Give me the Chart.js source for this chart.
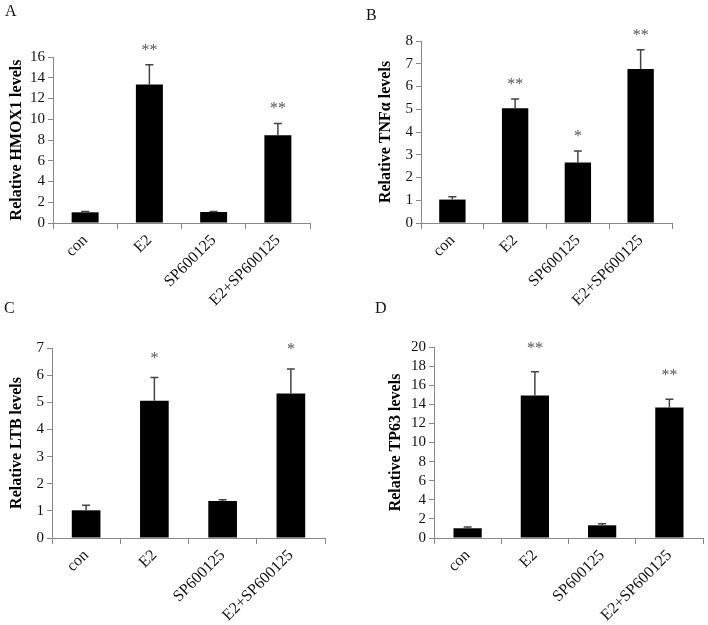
<!DOCTYPE html>
<html>
<head>
<meta charset="utf-8">
<script src="https://cdn.jsdelivr.net/npm/chart.js@4.4.1/dist/chart.umd.min.js"></script>
<style>
  body { margin: 0; background: #fff; }
  #wrap { position: relative; width: 708px; height: 625px; overflow: hidden; }
  canvas { position: absolute; }
  .tag { position: absolute; font: 16px "Liberation Serif", serif; line-height: 16px; color: #111; }
</style>
</head>
<body>
<div id="wrap">
  <canvas id="cA" width="354" height="320" style="left:0;top:0"></canvas>
  <canvas id="cB" width="354" height="320" style="left:354px;top:0"></canvas>
  <canvas id="cC" width="354" height="325" style="left:0;top:300px"></canvas>
  <canvas id="cD" width="354" height="325" style="left:354px;top:300px"></canvas>
  <div class="tag" style="left:5px;top:3px">A</div>
  <div class="tag" style="left:366px;top:7px">B</div>
  <div class="tag" style="left:4px;top:300px">C</div>
  <div class="tag" style="left:375px;top:300px">D</div>
</div>
<script>
const categories = ['con', 'E2', 'SP600125', 'E2+SP600125'];

const hmox1Means = [1.03, 13.35, 1.06, 8.45];
const hmox1Err = [0.07, 1.9, 0.06, 1.15];
const hmox1Sig = ['', '**', '', '**'];

const tnfMeans = [1.03, 5.04, 2.66, 6.77];
const tnfErr = [0.12, 0.41, 0.5, 0.84];
const tnfSig = ['', '**', '*', '**'];

const ltbMeans = [1.02, 5.06, 1.36, 5.32];
const ltbErr = [0.19, 0.85, 0.05, 0.91];
const ltbSig = ['', '*', '', '*'];

const tp63Means = [1.02, 14.92, 1.33, 13.66];
const tp63Err = [0.13, 2.5, 0.17, 0.88];
const tp63Sig = ['', '**', '', '**'];

const FONT = '"Liberation Serif", "Times New Roman", serif';

// error bars + asterisks on top of the bars
const errorBarPlugin = {
  id: 'errorBars',
  afterDatasetsDraw(chart, args, opts) {
    const ctx = chart.ctx;
    const y = chart.scales.y;
    const bars = chart.getDatasetMeta(0).data;
    ctx.save();
    bars.forEach((bar, i) => {
      const top = y.getPixelForValue(opts.means[i] + opts.errs[i]);
      const base = y.getPixelForValue(opts.means[i]);
      ctx.strokeStyle = '#444';
      ctx.lineWidth = 1.5;
      ctx.beginPath();
      ctx.moveTo(bar.x, base);
      ctx.lineTo(bar.x, top);
      ctx.moveTo(bar.x - 4, top);
      ctx.lineTo(bar.x + 4, top);
      ctx.stroke();
      if (opts.sig[i]) {
        ctx.fillStyle = '#555';
        ctx.font = '16px ' + FONT;
        ctx.textAlign = 'center';
        ctx.textBaseline = 'alphabetic';
        ctx.fillText(opts.sig[i], bar.x, top - opts.starGap);
      }
    });
    ctx.restore();
  }
};

function makeChart(id, means, errs, sig, yMax, step, title, g) {
  const ctx = document.getElementById(id).getContext('2d');
  return new Chart(ctx, {
    type: 'bar',
    data: {
      labels: categories,
      datasets: [{
        data: means,
        backgroundColor: '#000',
        borderWidth: 0,
        barPercentage: 0.42,
        categoryPercentage: 1
      }]
    },
    options: {
      responsive: false,
      animation: false,
      layout: { padding: { left: 0, right: g.right, top: g.top, bottom: 0 } },
      plugins: {
        legend: { display: false },
        tooltip: { enabled: false },
        errorBars: { means: means, errs: errs, sig: sig, starGap: g.starGap }
      },
      scales: {
        x: {
          offset: true,
          grid: { offset: true, drawOnChartArea: false, drawTicks: true, tickLength: 6, color: '#888' },
          border: { color: '#888', width: 1 },
          ticks: { minRotation: 45, maxRotation: 45, autoSkip: false, color: '#111', font: { family: FONT, size: 16 }, padding: 2 },
          afterFit: s => { s.height = g.xh; }
        },
        y: {
          min: 0,
          max: yMax,
          ticks: { stepSize: step, autoSkip: false, color: '#111', font: { family: FONT, size: 15 }, padding: 3 },
          grid: { drawOnChartArea: false, drawTicks: true, tickLength: 5, color: '#888' },
          border: { color: '#888', width: 1 },
          title: {
            display: true,
            text: title,
            color: '#000',
            font: { family: FONT, size: 16, weight: 'bold' },
            padding: { top: g.tp, bottom: 0 }
          },
          afterFit: s => { s.width = g.yw; }
        }
      }
    },
    plugins: [errorBarPlugin]
  });
}

makeChart('cA', hmox1Means, hmox1Err, hmox1Sig, 16, 2, 'Relative HMOX1 levels',
  { yw: 53, right: 44, top: 57, xh: 97, tp: 7, starGap: 10 });
makeChart('cB', tnfMeans, tnfErr, tnfSig, 8, 1, 'Relative TNF\u03b1 levels',
  { yw: 67, right: 36, top: 41, xh: 97, tp: 22, starGap: 10 });
makeChart('cC', ltbMeans, ltbErr, ltbSig, 7, 1, 'Relative LTB levels',
  { yw: 52, right: 29, top: 48, xh: 87, tp: 7, starGap: 15 });
makeChart('cD', tp63Means, tp63Err, tp63Sig, 20, 2, 'Relative TP63 levels',
  { yw: 80, right: 5, top: 47, xh: 87, tp: 32, starGap: 19 });
</script>
</body>
</html>
